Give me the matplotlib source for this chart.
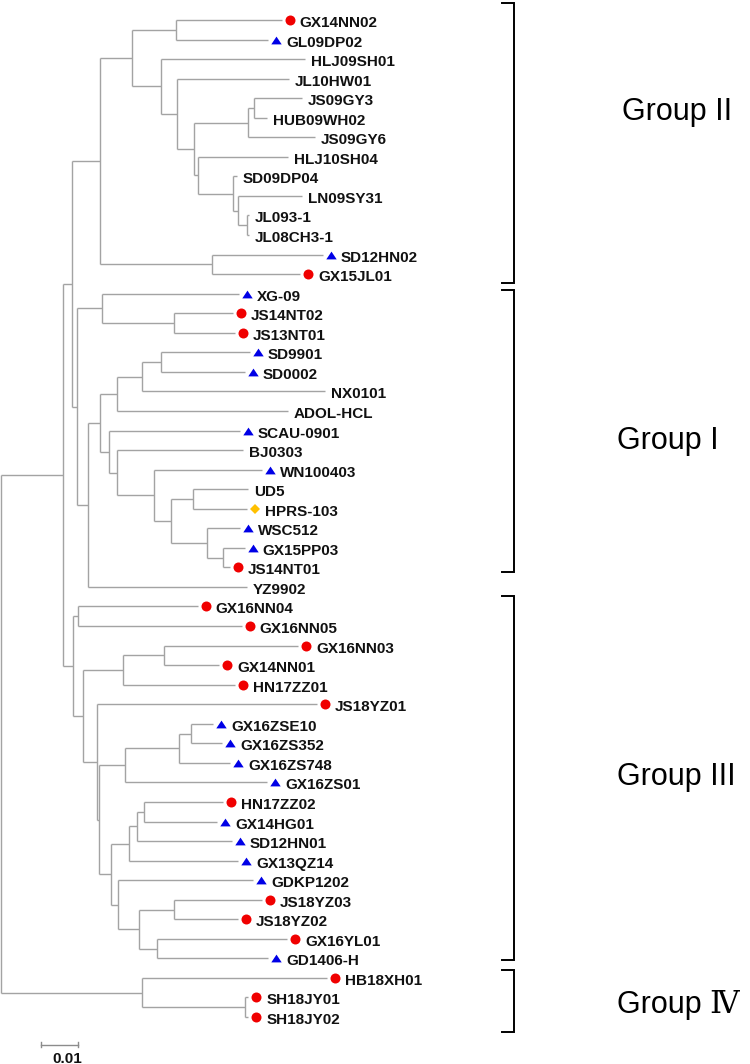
import matplotlib
matplotlib.use("Agg")
import matplotlib.pyplot as plt
from matplotlib.transforms import offset_copy

# ---------------- data ----------------
leaf_names = [
    "GX14NN02", "GL09DP02", "HLJ09SH01", "JL10HW01", "JS09GY3", "HUB09WH02",
    "JS09GY6", "HLJ10SH04", "SD09DP04", "LN09SY31", "JL093-1", "JL08CH3-1",
    "SD12HN02", "GX15JL01",
    "XG-09", "JS14NT02", "JS13NT01", "SD9901", "SD0002", "NX0101", "ADOL-HCL",
    "SCAU-0901", "BJ0303", "WN100403", "UD5", "HPRS-103", "WSC512", "GX15PP03",
    "JS14NT01", "YZ9902",
    "GX16NN04", "GX16NN05", "GX16NN03", "GX14NN01", "HN17ZZ01", "JS18YZ01",
    "GX16ZSE10", "GX16ZS352", "GX16ZS748", "GX16ZS01", "HN17ZZ02", "GX14HG01",
    "SD12HN01", "GX13QZ14", "GDKP1202", "JS18YZ03", "JS18YZ02", "GX16YL01",
    "GD1406-H",
    "HB18XH01", "SH18JY01", "SH18JY02",
]
# tip depth (substitutions per site, measured from the root)
leaf_depth = [
    0.0759, 0.0722, 0.0822, 0.0778, 0.0814, 0.0719,
    0.0849, 0.0776, 0.0638, 0.0814, 0.0670, 0.0670,
    0.0870, 0.0808,
    0.0643, 0.0627, 0.0632, 0.0673, 0.0659, 0.0876, 0.0776,
    0.0646, 0.0654, 0.0705, 0.0668, 0.0665, 0.0646, 0.0659,
    0.0619, 0.0665,
    0.0532, 0.0651, 0.0803, 0.0589, 0.0632, 0.0854,
    0.0573, 0.0597, 0.0619, 0.0719, 0.0600, 0.0584,
    0.0624, 0.0641, 0.0681, 0.0705, 0.0641, 0.0773,
    0.0722,
    0.0881, 0.0668, 0.0668,
]
# c = red circle, t = blue triangle, d = yellow diamond, '' = none
leaf_marker = [
    "c", "t", "", "", "", "", "", "", "", "", "", "", "t", "c",
    "t", "c", "c", "t", "t", "", "", "t", "", "t", "", "d", "t", "t", "c", "",
    "c", "c", "c", "c", "c", "c", "t", "t", "t", "t", "c", "t", "t", "t", "t",
    "c", "c", "c", "t",
    "c", "c", "c",
]

node_names = [
    "root", "n63", "n72", "GII", "A", "A1", "A2", "B", "C", "D", "F", "E", "G",
    "H", "I", "J", "K", "L", "L1", "M", "N", "O", "Q", "R", "P", "S", "T", "U",
    "V", "W", "X", "Y", "Z", "AA", "BB", "DD", "CC", "EE", "FF", "HH", "II",
    "GG", "JJ", "LL", "MM", "KK", "NN", "OO", "PP", "QQ", "RR",
]
node_depth = [
    0.0, 0.0168, 0.0192, 0.0268, 0.0354, 0.0473, 0.0432, 0.0476, 0.0522,
    0.0668, 0.0684, 0.0532, 0.0627, 0.0641, 0.0665, 0.0570, 0.0205, 0.0273,
    0.0468, 0.0235, 0.0268, 0.0314, 0.0381, 0.0432, 0.0292, 0.0314, 0.0414,
    0.0459, 0.0519, 0.0557, 0.0600, 0.0195, 0.0208, 0.0222, 0.0330, 0.0441,
    0.0259, 0.0265, 0.0335, 0.0481, 0.0514, 0.0297, 0.0346, 0.0368, 0.0386,
    0.0316, 0.0373, 0.0468, 0.0422, 0.0381, 0.0659,
]
node_children = [
    ["n63", "QQ"], ["n72", "Y"], ["GII", "K"], ["A", "J"], ["A1", "A2"],
    ["GX14NN02", "GL09DP02"], ["HLJ09SH01", "B"], ["JL10HW01", "C"],
    ["D", "E"], ["F", "JS09GY6"], ["JS09GY3", "HUB09WH02"], ["HLJ10SH04", "G"],
    ["SD09DP04", "H"], ["LN09SY31", "I"], ["JL093-1", "JL08CH3-1"],
    ["SD12HN02", "GX15JL01"], ["L", "M"], ["XG-09", "L1"],
    ["JS14NT02", "JS13NT01"], ["N", "YZ9902"], ["O", "P"], ["Q", "ADOL-HCL"],
    ["R", "NX0101"], ["SD9901", "SD0002"], ["SCAU-0901", "S"], ["BJ0303", "T"],
    ["WN100403", "U"], ["V", "W"], ["UD5", "HPRS-103"], ["WSC512", "X"],
    ["GX15PP03", "JS14NT01"], ["Z", "AA"], ["GX16NN04", "GX16NN05"],
    ["BB", "CC"], ["DD", "HN17ZZ01"], ["GX16NN03", "GX14NN01"],
    ["JS18YZ01", "EE"], ["FF", "GG"], ["HH", "GX16ZS01"], ["II", "GX16ZS748"],
    ["GX16ZSE10", "GX16ZS352"], ["JJ", "KK"], ["LL", "GX13QZ14"],
    ["MM", "SD12HN01"], ["HN17ZZ02", "GX14HG01"], ["GDKP1202", "NN"],
    ["OO", "PP"], ["JS18YZ03", "JS18YZ02"], ["GX16YL01", "GD1406-H"],
    ["HB18XH01", "RR"], ["SH18JY01", "SH18JY02"],
]

group_names = ["Group II", "Group I", "Group III", "Group \u2163"]
group_first = ["GX14NN02", "XG-09", "GX16NN04", "HB18XH01"]
group_last = ["GX15JL01", "JS14NT01", "GD1406-H", "SH18JY02"]

scale_value = 0.01
scale_label = "0.01"

# ---------------- layout ----------------
W, H = 750, 1064
ROW0 = 20.0      # pixel y of first leaf
ROWH = 19.55     # pixel per leaf row
UNIT = 3700.0    # pixels per unit branch length
X0 = 1.0         # pixel x of root

def prow(p):
    return (p - ROW0) / ROWH

def pdx(p):
    return (p - X0) / UNIT

fig = plt.figure(figsize=(W / 100, H / 100), dpi=100)
ax = fig.add_axes([0, 0, 1, 1])
ax.set_xlim(pdx(0), pdx(W))
ax.set_ylim(prow(H), prow(0))
ax.axis("off")

xpos = {n: d for n, d in zip(leaf_names, leaf_depth)}
ypos = {n: float(i) for i, n in enumerate(leaf_names)}
children = {}
for n, d, ch in zip(node_names, node_depth, node_children):
    xpos[n] = d
    children[n] = ch

def get_y(n):
    if n in ypos:
        return ypos[n]
    ys = [get_y(c) for c in children[n]]
    ypos[n] = (ys[0] + ys[-1]) / 2.0
    return ypos[n]

get_y("root")

LC = "#a3a3a3"
LW = 1.0
for n in node_names:
    ch = children[n]
    ys = [ypos[c] for c in ch]
    ax.plot([xpos[n], xpos[n]], [min(ys), max(ys)], color=LC, lw=LW,
            solid_capstyle="butt")
    for c in ch:
        ax.plot([xpos[n], xpos[c]], [ypos[c], ypos[c]], color=LC, lw=LW,
                solid_capstyle="butt")

marker_style = {
    "c": dict(marker="o", color="#f00000", ms=7.2),
    "t": dict(marker=[(-1, -0.75), (1, -0.75), (0, 0.75)], color="#0000e6", ms=7.5),
    "d": dict(marker="D", color="#ffc000", ms=5.2),
}

for name, d, m in zip(leaf_names, leaf_depth, leaf_marker):
    y = ypos[name]
    if m:
        st = marker_style[m]
        tr = offset_copy(ax.transData, fig=fig, x=8, y=0, units="dots")
        ax.plot([d], [y], linestyle="none", marker=st["marker"], ms=st["ms"],
                color=st["color"], markeredgewidth=0, transform=tr)
        dx = 18
    else:
        dx = 6
    tr = offset_copy(ax.transData, fig=fig, x=dx, y=-3, units="dots")
    ax.text(d, y, name, transform=tr, ha="left", va="center",
            fontsize=11, fontweight="bold", family="Liberation Sans",
            color="#111111")

# scale bar
sx0 = pdx(41)
sy = prow(1045)
ax.plot([sx0, sx0 + scale_value], [sy, sy], color="#8c8c8c", lw=1.0)
for xx in (sx0, sx0 + scale_value):
    ax.plot([xx, xx], [sy - 2.5 / ROWH, sy + 2.5 / ROWH], color="#8c8c8c", lw=1.0)
ax.text(pdx(52), prow(1059), scale_label, ha="left", va="center", fontsize=11,
        fontweight="bold", family="Liberation Sans", color="#111111")

# group brackets
bracket_top_pad = [17, 4, 10, 8]      # pixels above first leaf
bracket_bot_pad = [9, 5, 2, 15]       # pixels below last leaf
label_x_px = [622, 617, 617, 617]
label_y_px = [112, 441, 777, 1005]
bx_v = pdx(514)
bx_h = pdx(502)
for gname, f, l, tp, bp, lx, ly in zip(group_names, group_first, group_last,
                                       bracket_top_pad, bracket_bot_pad,
                                       label_x_px, label_y_px):
    yt = ypos[f] - tp / ROWH
    yb = ypos[l] + bp / ROWH
    ax.plot([bx_h, bx_v, bx_v, bx_h], [yt, yt, yb, yb], color="black", lw=1.4,
            solid_joinstyle="miter")
    ax.text(pdx(lx), prow(ly), gname, ha="left", va="center", fontsize=22,
            family=["Liberation Sans", "DejaVu Serif", "Noto Sans CJK SC"],
            color="black")

fig.savefig("out.png", dpi=100)
